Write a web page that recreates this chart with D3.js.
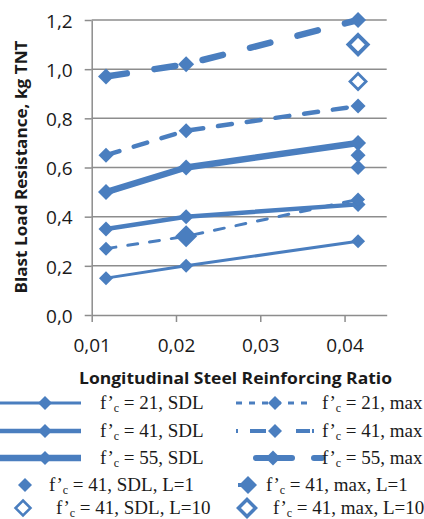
<!DOCTYPE html>
<html>
<head>
<meta charset="utf-8">
<script src="https://cdn.jsdelivr.net/npm/d3@7/dist/d3.min.js"></script>
<style>
  html, body { margin: 0; padding: 0; background: #fff; }
  svg { display: block; }
</style>
</head>
<body>
<svg id="chart" width="424" height="519"></svg>
<script>
// ---------- data ----------
const xValues = [0.0117, 0.0212, 0.0416];
const sdl21 = [0.15, 0.20, 0.30];
const sdl41 = [0.35, 0.40, 0.45];
const sdl55 = [0.50, 0.60, 0.70];
const max21 = [0.27, 0.32, 0.47];
const max41 = [0.65, 0.75, 0.85];
const max55 = [0.97, 1.02, 1.20];
const sdlL1X = [0.0416, 0.0416];
const sdlL1Y = [0.60, 0.65];
const maxL1X = [0.0212];
const maxL1Y = [0.32];
const sdlL10X = [0.0416];
const sdlL10Y = [0.95];
const maxL10X = [0.0416];
const maxL10Y = [1.10];
const xTicks = [0.01, 0.02, 0.03, 0.04];
const xTickLabels = ["0,01", "0,02", "0,03", "0,04"];
const yTicks = [0, 0.2, 0.4, 0.6, 0.8, 1.0, 1.2];
const yTickLabels = ["0,0", "0,2", "0,4", "0,6", "0,8", "1,0", "1,2"];
const legendLabels = [
  ["21, SDL", "21, max"],
  ["41, SDL", "41, max"],
  ["55, SDL", "55, max"],
  ["41, SDL, L=1", "41, max, L=1"],
  ["41, SDL, L=10", "41, max, L=10"]
];

// ---------- setup ----------
const blue = "#4a7ebf";
const gridCol = "#8d8d8d";
const svg = d3.select("#chart");
const x = d3.scaleLinear().domain([0.01, 0.045]).range([91.7, 386.7]);
const y = d3.scaleLinear().domain([0, 1.2]).range([315, 20]);

function diamond(r) { return `M0,${-r}L${r},0L0,${r}L${-r},0Z`; }

// gridlines
svg.append("g").selectAll("line").data(yTicks.filter(d => d > 0)).join("line")
  .attr("x1", x(0.01)).attr("x2", x(0.045))
  .attr("y1", d => y(d)).attr("y2", d => y(d))
  .attr("stroke", gridCol).attr("stroke-width", 1.5);

// y axis
const yAxis = svg.append("g").attr("transform", `translate(${x(0.01)},0)`)
  .call(d3.axisLeft(y).tickValues(yTicks).tickSizeInner(7).tickSizeOuter(0)
        .tickFormat((d, i) => yTickLabels[i]));
yAxis.select(".domain").attr("stroke", gridCol).attr("stroke-width", 1.5);
yAxis.selectAll(".tick line").attr("stroke", gridCol).attr("stroke-width", 1.5);
yAxis.selectAll(".tick text").attr("x", -19).attr("dy", "0.38em")
  .attr("font-family", "'Open Sans', sans-serif").attr("font-size", 19).attr("fill", "#1a1a1a");

// x axis
const xAxis = svg.append("g").attr("transform", `translate(0,${y(0)})`)
  .call(d3.axisBottom(x).tickValues(xTicks).tickSizeInner(7).tickSizeOuter(0)
        .tickFormat((d, i) => xTickLabels[i]));
xAxis.select(".domain").attr("stroke", gridCol).attr("stroke-width", 1.5);
xAxis.selectAll(".tick line").attr("stroke", gridCol).attr("stroke-width", 1.5);
xAxis.selectAll(".tick text").attr("y", 37).attr("dy", 0)
  .attr("font-family", "'Open Sans', sans-serif").attr("font-size", 19).attr("fill", "#1a1a1a");

// axis titles
svg.append("text").attr("x", 235.5).attr("y", 384).attr("text-anchor", "middle")
  .attr("font-family", "'Open Sans', sans-serif").attr("font-weight", "bold").attr("font-size", 16)
  .attr("textLength", 313).attr("lengthAdjust", "spacingAndGlyphs").attr("fill", "#1a1a1a")
  .text("Longitudinal Steel Reinforcing Ratio");
svg.append("text").attr("transform", "translate(27,167) rotate(-90)").attr("text-anchor", "middle")
  .attr("font-family", "'Open Sans', sans-serif").attr("font-weight", "bold").attr("font-size", 16)
  .attr("textLength", 253).attr("lengthAdjust", "spacingAndGlyphs").attr("fill", "#1a1a1a")
  .text("Blast Load Resistance, kg TNT");

// ---------- series ----------
const seriesDefs = [
  { vals: sdl21, w: 3, dash: null, r: 7 },
  { vals: sdl41, w: 4.5, dash: null, r: 7.5 },
  { vals: sdl55, w: 6.5, dash: null, r: 8 },
  { vals: max21, w: 3, dash: "10,12", r: 7 },
  { vals: max41, w: 4.5, dash: "14,15", r: 7.5 },
  { vals: max55, w: 6.5, dash: "21,28", r: 8 }
];
const line = d3.line().x(d => x(d[0])).y(d => y(d[1]));
const plot = svg.append("g");
seriesDefs.forEach(s => {
  const pts = xValues.map((xv, i) => [xv, s.vals[i]]);
  plot.append("path").attr("d", line(pts)).attr("fill", "none")
    .attr("stroke", blue).attr("stroke-width", s.w)
    .attr("stroke-linecap", "round").attr("stroke-linejoin", "round")
    .attr("stroke-dasharray", s.dash);
  plot.selectAll(null).data(pts).join("path")
    .attr("transform", d => `translate(${x(d[0])},${y(d[1])})`)
    .attr("d", diamond(s.r)).attr("fill", blue);
});
// single-point series
plot.selectAll(null).data(sdlL1X.map((v, i) => [v, sdlL1Y[i]])).join("path")
  .attr("transform", d => `translate(${x(d[0])},${y(d[1])})`).attr("d", diamond(7.5)).attr("fill", blue);
plot.selectAll(null).data(maxL1X.map((v, i) => [v, maxL1Y[i]])).join("path")
  .attr("transform", d => `translate(${x(d[0])},${y(d[1])})`).attr("d", diamond(11)).attr("fill", blue);
plot.selectAll(null).data(sdlL10X.map((v, i) => [v, sdlL10Y[i]])).join("path")
  .attr("transform", d => `translate(${x(d[0])},${y(d[1])})`).attr("d", diamond(8)).attr("fill", "#fff")
  .attr("stroke", blue).attr("stroke-width", 2.8);
plot.selectAll(null).data(maxL10X.map((v, i) => [v, maxL10Y[i]])).join("path")
  .attr("transform", d => `translate(${x(d[0])},${y(d[1])})`).attr("d", diamond(9.5)).attr("fill", "#fff")
  .attr("stroke", blue).attr("stroke-width", 4);

// ---------- legend ----------
const rowY = [403, 431, 458, 485, 508];
const leg = svg.append("g");
function legText(xp, yp, label) {
  const t = leg.append("text").attr("x", xp).attr("y", yp + 5.5)
    .attr("font-family", "'Liberation Serif', 'Times New Roman', serif").attr("font-size", 19)
    .attr("fill", "#1a1a1a");
  t.append("tspan").text("f’");
  t.append("tspan").attr("font-size", 12).attr("dy", 3).text("c");
  t.append("tspan").attr("dy", -3).text(" = " + label);
}
// left column lines (SDL)
[0, 1, 2].forEach(i => {
  const s = seriesDefs[i];
  leg.append("line").attr("x1", 0).attr("x2", 81).attr("y1", rowY[i]).attr("y2", rowY[i])
    .attr("stroke", blue).attr("stroke-width", s.w);
  leg.append("path").attr("transform", `translate(45,${rowY[i]})`).attr("d", diamond(7)).attr("fill", blue);
  legText(100, rowY[i], legendLabels[i][0]);
});
// right column lines (max)
leg.append("line").attr("x1", 236).attr("x2", 314).attr("y1", rowY[0]).attr("y2", rowY[0])
  .attr("stroke", blue).attr("stroke-width", 3).attr("stroke-dasharray", "6,7").attr("stroke-linecap", "butt");
leg.append("path").attr("transform", `translate(275,${rowY[0]})`).attr("d", diamond(7)).attr("fill", blue);
leg.append("line").attr("x1", 236).attr("x2", 314).attr("y1", rowY[1]).attr("y2", rowY[1])
  .attr("stroke", blue).attr("stroke-width", 4).attr("stroke-dasharray", "2,12,16,30,14")
  .attr("stroke-linecap", "butt");
leg.append("path").attr("transform", `translate(275,${rowY[1]})`).attr("d", diamond(7)).attr("fill", blue);
leg.append("line").attr("x1", 256).attr("x2", 292).attr("y1", rowY[2]).attr("y2", rowY[2])
  .attr("stroke", blue).attr("stroke-width", 6).attr("stroke-linecap", "round");
leg.append("line").attr("x1", 314).attr("x2", 322).attr("y1", rowY[2]).attr("y2", rowY[2])
  .attr("stroke", blue).attr("stroke-width", 6).attr("stroke-linecap", "round");
leg.append("path").attr("transform", `translate(273,${rowY[2]})`).attr("d", diamond(7.5)).attr("fill", blue);
[0, 1, 2].forEach(i => legText(322, rowY[i], legendLabels[i][1]));
// rows 4-5
leg.append("path").attr("transform", `translate(25,${rowY[3]})`).attr("d", diamond(7)).attr("fill", blue);
legText(49, rowY[3], legendLabels[3][0]);
leg.append("path").attr("transform", `translate(23,${rowY[4]})`).attr("d", diamond(7.5)).attr("fill", "#fff")
  .attr("stroke", blue).attr("stroke-width", 2.5);
legText(56, rowY[4], legendLabels[4][0]);
leg.append("line").attr("x1", 238).attr("x2", 248).attr("y1", rowY[3]).attr("y2", rowY[3])
  .attr("stroke", blue).attr("stroke-width", 4);
leg.append("path").attr("transform", `translate(248,${rowY[3]})`).attr("d", diamond(9)).attr("fill", blue);
legText(266, rowY[3], legendLabels[3][1]);
leg.append("path").attr("transform", `translate(247,${rowY[4]})`).attr("d", diamond(8.5)).attr("fill", "#fff")
  .attr("stroke", blue).attr("stroke-width", 3.5);
legText(273, rowY[4], legendLabels[4][1]);
</script>
</body>
</html>
